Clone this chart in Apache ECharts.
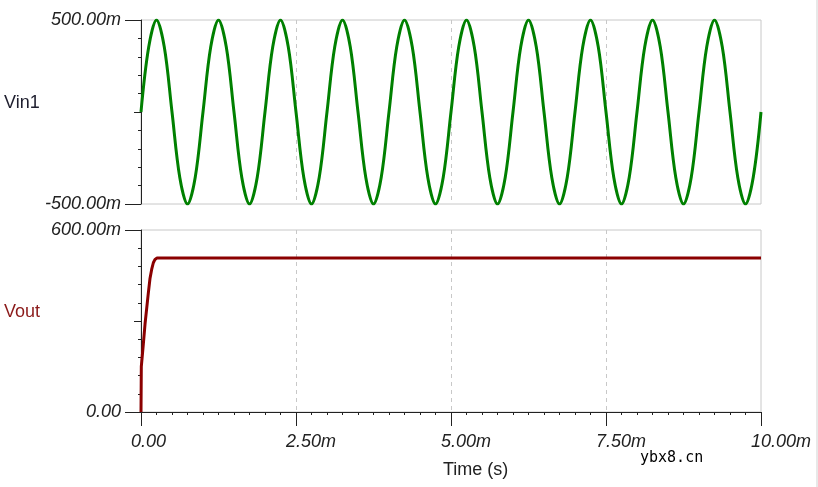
<!DOCTYPE html>
<html>
<head>
<meta charset="utf-8">
<script src="https://cdn.jsdelivr.net/npm/echarts@6/dist/echarts.min.js"></script>
<style>
    html, body { margin: 0; padding: 0; background: #fff; }
    #chart { width: 818px; height: 487px; }
</style>
</head>
<body>
<div id="chart"></div>
<script>
    // 时间 (ms) 与电压 (mV)
    let vinTime = [
        0, 0.125, 0.25, 0.375, 0.5, 0.625, 0.75, 0.875,
        1, 1.125, 1.25, 1.375, 1.5, 1.625, 1.75, 1.875,
        2, 2.125, 2.25, 2.375, 2.5, 2.625, 2.75, 2.875,
        3, 3.125, 3.25, 3.375, 3.5, 3.625, 3.75, 3.875,
        4, 4.125, 4.25, 4.375, 4.5, 4.625, 4.75, 4.875,
        5, 5.125, 5.25, 5.375, 5.5, 5.625, 5.75, 5.875,
        6, 6.125, 6.25, 6.375, 6.5, 6.625, 6.75, 6.875,
        7, 7.125, 7.25, 7.375, 7.5, 7.625, 7.75, 7.875,
        8, 8.125, 8.25, 8.375, 8.5, 8.625, 8.75, 8.875,
        9, 9.125, 9.25, 9.375, 9.5, 9.625, 9.75, 9.875,
        10
    ];
    let vinValue = [
        0, 354, 500, 354, 0, -354, -500, -354,
        0, 354, 500, 354, 0, -354, -500, -354,
        0, 354, 500, 354, 0, -354, -500, -354,
        0, 354, 500, 354, 0, -354, -500, -354,
        0, 354, 500, 354, 0, -354, -500, -354,
        0, 354, 500, 354, 0, -354, -500, -354,
        0, 354, 500, 354, 0, -354, -500, -354,
        0, 354, 500, 354, 0, -354, -500, -354,
        0, 354, 500, 354, 0, -354, -500, -354,
        0, 354, 500, 354, 0, -354, -500, -354,
        0
    ];
    let voutTime = [0, 0.005, 0.038, 0.065, 0.091, 0.118, 0.145, 0.172, 0.199, 0.226, 0.26, 10];
    let voutValue = [0, 150, 225, 290, 340, 392, 440, 470, 492, 503, 508, 508];

    let xTicks = { min: 0, max: 10, interval: 2.5 };
    let vinTicks = { min: -500, max: 500, interval: 500 };
    let voutTicks = { min: 0, max: 600, interval: 300 };

    function zip (xs, ys) {
        return xs.map(function (x, i) { return [x, ys[i]]; });
    }
    function mLabel (v) {
        if (v === 0) return '0.00';
        return v.toFixed(2) + 'm';
    }

    let labelFont = {
        fontFamily: 'Liberation Sans',
        fontStyle: 'italic',
        fontSize: 18,
        color: '#222'
    };
    let axisDark = { lineStyle: { color: '#222', width: 1 } };
    let dashed = { show: true, showMinLine: false, showMaxLine: false,
        lineStyle: { color: '#c8c8c8', type: [4, 4], width: 1 } };

    let chart = echarts.init(document.getElementById('chart'));
    let option = {
        animation: false,
        backgroundColor: '#fff',
        grid: [
            { left: 141, top: 20, width: 620, height: 184, show: true, borderColor: '#c8c8c8', borderWidth: 1 },
            { left: 141, top: 230, width: 620, height: 182, show: true, borderColor: '#c8c8c8', borderWidth: 1 }
        ],
        xAxis: [
            {
                type: 'value', gridIndex: 0,
                min: xTicks.min, max: xTicks.max, interval: xTicks.interval,
                axisLine: { show: false }, axisTick: { show: false }, axisLabel: { show: false },
                splitLine: dashed
            },
            {
                type: 'value', gridIndex: 1, position: 'bottom',
                min: xTicks.min, max: xTicks.max, interval: xTicks.interval,
                axisLine: axisDark,
                axisTick: { show: true, length: 14, lineStyle: { color: '#222' } },
                minorTick: { show: true, splitNumber: 10, length: 3, lineStyle: { color: '#222' } },
                axisLabel: Object.assign({ margin: 21, align: 'left', padding: [0, 0, 0, -10], formatter: mLabel }, labelFont),
                splitLine: dashed
            }
        ],
        yAxis: [
            {
                type: 'value', gridIndex: 0, position: 'left', offset: 0,
                min: vinTicks.min, max: vinTicks.max, interval: vinTicks.interval,
                axisLine: axisDark,
                axisTick: { show: true, length: 7, lineStyle: { color: '#222' } },
                minorTick: { show: true, splitNumber: 5, length: 3, lineStyle: { color: '#222' } },
                axisLabel: Object.assign({ margin: 20, formatter: function (v) { return v === 0 ? '' : mLabel(v); } }, labelFont),
                splitLine: { show: false }
            },
            {
                // 两端的长刻度
                type: 'value', gridIndex: 0, position: 'left', offset: 0,
                min: vinTicks.min, max: vinTicks.max, interval: vinTicks.max - vinTicks.min,
                axisLine: { show: false },
                axisTick: { show: true, length: 16, lineStyle: { color: '#222' } },
                axisLabel: { show: false }, splitLine: { show: false }
            },
            {
                type: 'value', gridIndex: 1, position: 'left', offset: 0,
                min: voutTicks.min, max: voutTicks.max, interval: voutTicks.interval,
                axisLine: axisDark,
                axisTick: { show: true, length: 7, lineStyle: { color: '#222' } },
                minorTick: { show: true, splitNumber: 5, length: 3, lineStyle: { color: '#222' } },
                axisLabel: Object.assign({ margin: 20, formatter: function (v) { return v === 300 ? '' : mLabel(v); } }, labelFont),
                splitLine: { show: false }
            },
            {
                type: 'value', gridIndex: 1, position: 'left', offset: 0,
                min: voutTicks.min, max: voutTicks.max, interval: voutTicks.max - voutTicks.min,
                axisLine: { show: false },
                axisTick: { show: true, length: 16, lineStyle: { color: '#222' } },
                axisLabel: { show: false }, splitLine: { show: false }
            }
        ],
        series: [
            {
                name: 'Vin1', type: 'line', xAxisIndex: 0, yAxisIndex: 0,
                data: zip(vinTime, vinValue), smooth: 0.35, showSymbol: false,
                lineStyle: { color: '#008000', width: 3 }
            },
            {
                name: 'Vout', type: 'line', xAxisIndex: 1, yAxisIndex: 2,
                data: zip(voutTime, voutValue), showSymbol: false,
                lineStyle: { color: '#8b0000', width: 3 }
            }
        ],
        graphic: [
            { type: 'text', x: 4, y: 103, style: { text: 'Vin1', fill: '#202030', font: '18px "Liberation Sans"', textVerticalAlign: 'middle' } },
            { type: 'text', x: 4, y: 312, style: { text: 'Vout', fill: '#8b1a1a', font: '18px "Liberation Sans"', textVerticalAlign: 'middle' } },
            { type: 'text', x: 443, y: 470, style: { text: 'Time (s)', fill: '#222', font: '18px "Liberation Sans"', textVerticalAlign: 'middle' } },
            { type: 'text', x: 640, y: 458, style: { text: 'ybx8.cn', fill: '#000', font: '15px "DejaVu Sans Mono"', textVerticalAlign: 'middle' } },
            { type: 'rect', shape: { x: 816, y: 0, width: 2, height: 487 }, style: { fill: '#e8e8e8' } }
        ]
    };
    chart.setOption(option);
</script>
</body>
</html>
